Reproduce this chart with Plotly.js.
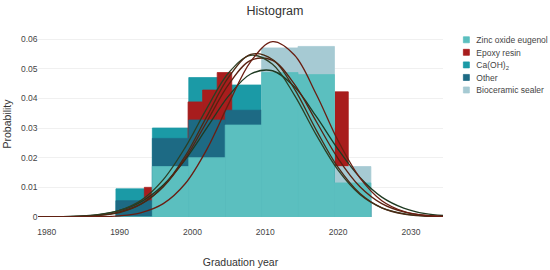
<!DOCTYPE html>
<html>
<head>
<meta charset="utf-8">
<script src="https://cdn.plot.ly/plotly-3.0.1.min.js"></script>
<style>
  html, body { margin: 0; padding: 0; overflow: hidden; background: #fff; }
  #chart { width: 1100px; height: 540px; transform: scale(0.5); transform-origin: 0 0; }
</style>
</head>
<body>
<div id="chart"></div>
<script>
// 5-year bins shared by most groups
const binEdges = [1989.5, 1994.5, 1999.5, 2004.5, 2009.5, 2014.5, 2019.5, 2024.5];
// epoxy resin was binned at 2 years
const epoxyEdges = [1993.4, 1995.4, 1997.4, 1999.4, 2001.4, 2003.4, 2005.4, 2007.4,
    2009.4, 2011.4, 2013.4, 2015.4, 2017.4, 2019.4, 2021.4, 2023.4];

const bioceramic = [0.003, 0.017, 0.020, 0.031, 0.057, 0.0575, 0.017];
const caoh2 = [0.0095, 0.030, 0.047, 0.0445, 0.044, 0.040, 0.008];
const epoxy = [0.010, 0.010, 0.016, 0.0388, 0.0428, 0.0487, 0.030, 0.030,
    0.036, 0.040, 0.040, 0.035, 0.030, 0.0422, 0.008];
const other = [0.0055, 0.0265, 0.0327, 0.036, 0.030, 0.030, 0.005];
const zoe = [0, 0.017, 0.020, 0.031, 0.0487, 0.048, 0.0115];

// fitted curves
const curveX = [1978.8, 1983, 1987, 1990, 1993, 1996, 1999, 2002, 2005, 2008,
    2011, 2014, 2017, 2020, 2023, 2026, 2029, 2032, 2034.4];
const curveA = [0, 0.00001, 0.00009, 0.0004, 0.0015, 0.0045, 0.0112, 0.0229, 0.0383, 0.0524,
    0.0591, 0.0546, 0.0414, 0.0257, 0.0132, 0.0055, 0.0019, 0.0005, 0.0002];
const curveB = [0.00001, 0.00007, 0.00046, 0.0015, 0.0044, 0.0103, 0.0205, 0.0340, 0.0472, 0.0548,
    0.0531, 0.0432, 0.0293, 0.0167, 0.0079, 0.0031, 0.0010, 0.0003, 0.0001];
const curveC = [0.00002, 0.00012, 0.0007, 0.0022, 0.0057, 0.0126, 0.0234, 0.0367, 0.0487, 0.0545,
    0.0515, 0.0411, 0.0277, 0.0158, 0.0076, 0.0031, 0.0011, 0.0003, 0.0001];
const curveD = [0.00001, 0.00009, 0.0005, 0.0017, 0.0045, 0.0102, 0.0197, 0.0322, 0.0448, 0.0528,
    0.0528, 0.0448, 0.0322, 0.0197, 0.0102, 0.0045, 0.0017, 0.0005, 0.0002];
const curveE = [0.00003, 0.00017, 0.0008, 0.0022, 0.0052, 0.0108, 0.0193, 0.0301, 0.0409, 0.0482,
    0.0493, 0.0439, 0.0339, 0.0228, 0.0133, 0.0067, 0.0030, 0.0011, 0.0005];

const yTicks = [0, 0.01, 0.02, 0.03, 0.04, 0.05, 0.06];
const yTickText = ['0', '0.01', '0.02', '0.03', '0.04', '0.05', '0.06'];

function centers(edges) {
    return edges.slice(0, -1).map((e, i) => (e + edges[i + 1]) / 2);
}
function widths(edges) {
    return edges.slice(0, -1).map((e, i) => edges[i + 1] - e);
}

function barTrace(name, edges, values, color, rank) {
    return {
        type: 'bar',
        name: name,
        x: centers(edges),
        y: values,
        width: widths(edges),
        // outline in the fill colour hides the seams between touching bins
        marker: { color: color, line: { width: 1.5, color: color } },
        legendrank: rank,
        hoverinfo: 'name+y'
    };
}

function curveTrace(values, color) {
    return {
        type: 'scatter',
        mode: 'lines',
        x: curveX,
        y: values,
        line: { color: color, width: 2.6, shape: 'spline' },
        showlegend: false,
        hoverinfo: 'skip'
    };
}

const data = [
    barTrace('Ca(OH)<sub>2</sub>', binEdges, caoh2, '#1b9aa6', 3),
    barTrace('Epoxy resin', epoxyEdges, epoxy, '#a81d1d', 2),
    barTrace('Bioceramic sealer', binEdges, bioceramic, '#a6cad3', 5),
    barTrace('Other', binEdges, other, '#1d6a84', 4),
    barTrace('Zinc oxide eugenol', binEdges, zoe, '#5bbfbf', 1),
    curveTrace(curveE, '#1f3a22'),
    curveTrace(curveD, '#5a2010'),
    curveTrace(curveC, '#2c3f24'),
    curveTrace(curveB, '#4a2a14'),
    curveTrace(curveA, '#6a1e12')
];

const font = 'Liberation Sans, Arial, sans-serif';

const layout = {
    width: 1100,
    height: 540,
    margin: { l: 76, r: 214, t: 62, b: 106, autoexpand: false },
    paper_bgcolor: '#fff',
    plot_bgcolor: '#fff',
    barmode: 'overlay',
    font: { family: font, color: '#444' },
    title: {
        text: 'Histogram',
        font: { size: 25, color: '#333' },
        x: 0.5,
        y: 0.96,
        yanchor: 'middle'
    },
    xaxis: {
        range: [1978.8, 2034.4],
        tickvals: [1980, 1990, 2000, 2010, 2020, 2030],
        showgrid: false,
        zeroline: false,
        showline: false,
        automargin: false,
        ticks: 'outside',
        ticklen: 14,
        tickcolor: 'rgba(0,0,0,0)',
        tickfont: { size: 17, color: '#444' },
        title: { text: 'Graduation year', font: { size: 21, color: '#333' }, standoff: 44 }
    },
    yaxis: {
        range: [0, 0.0627],
        tickvals: yTicks,
        ticktext: yTickText,
        showgrid: true,
        gridcolor: '#f0f0f0',
        gridwidth: 2,
        zeroline: false,
        automargin: false,
        ticks: '',
        tickfont: { size: 17, color: '#444' },
        title: { text: 'Probability', font: { size: 21, color: '#333' }, standoff: 14 }
    },
    legend: {
        x: 1.033,
        xanchor: 'left',
        y: 1,
        yanchor: 'top',
        font: { size: 17, color: '#444' },
        bgcolor: 'rgba(0,0,0,0)'
    },
    showlegend: true
};

Plotly.newPlot('chart', data, layout, { displayModeBar: false, staticPlot: true });
</script>
</body>
</html>
